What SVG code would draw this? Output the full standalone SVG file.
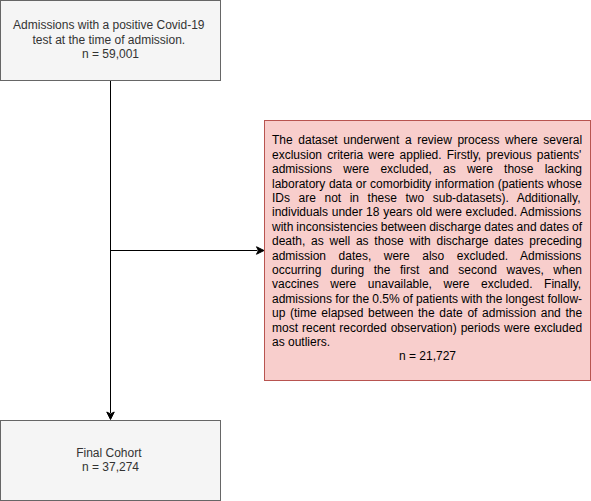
<svg xmlns="http://www.w3.org/2000/svg" width="591" height="501" viewBox="0 0 591 501">
<style>
.box{fill:#f5f5f5;stroke:#666666;stroke-width:1}
.red{fill:#f8cecc;stroke:#b85450;stroke-width:1}
.t{font-family:"Liberation Sans",Arial,Helvetica,sans-serif;font-size:12px;fill:#333333}
.j{font-family:"Liberation Sans",Arial,Helvetica,sans-serif;font-size:12px;fill:#000000}
.edge{fill:none;stroke:#000000;stroke-width:1}
.head{fill:#000000;stroke:#000000;stroke-width:1}
</style>
<rect width="591" height="501" fill="#ffffff"/>
<g id="connectors">
<path class="edge" d="M110.5,80.5 L110.5,413"/>
<path class="head" d="M110.5,419.5 L106.75,412 L110.5,413.9 L114.25,412 Z"/>
<path class="edge" d="M110.5,250.5 L257.5,250.5"/>
<path class="head" d="M264,250.5 L256.5,254.25 L258.4,250.5 L256.5,246.75 Z"/>
</g>
<g id="node-admissions">
<rect class="box" x="0.5" y="0.5" width="220" height="80"/>
<text class="t" text-anchor="middle">
<tspan x="110.5" y="29.4">Admissions with a positive Covid-19</tspan>
<tspan x="110.5" y="43.8">test at the time of admission.</tspan>
<tspan x="110.5" y="58.2">n = 59,001</tspan>
</text>
</g>
<g id="node-exclusion">
<rect class="red" x="264.5" y="120.5" width="326" height="260"/>
<text class="j" x="272" y="144.3" style="word-spacing:2.27px">The dataset underwent a review process where several</text>
<text class="j" x="272" y="158.7" style="word-spacing:1.83px">exclusion criteria were applied. Firstly, previous patients'</text>
<text class="j" x="272" y="173.1" style="word-spacing:7.87px">admissions were excluded, as were those lacking</text>
<text class="j" x="272" y="187.5" style="word-spacing:0.2px">laboratory data or comorbidity information (patients whose</text>
<text class="j" x="272" y="201.9" style="word-spacing:5.22px">IDs are not in these two sub-datasets). Additionally,</text>
<text class="j" x="272" y="216.3" style="word-spacing:0.36px">individuals under 18 years old were excluded. Admissions</text>
<text class="j" x="272" y="230.7" style="word-spacing:-0.31px">with inconsistencies between discharge dates and dates of</text>
<text class="j" x="272" y="245.1" style="word-spacing:2.4px">death, as well as those with discharge dates preceding</text>
<text class="j" x="272" y="259.5" style="word-spacing:9.18px">admission dates, were also excluded. Admissions</text>
<text class="j" x="272" y="273.9" style="word-spacing:6.17px">occurring during the first and second waves, when</text>
<text class="j" x="272" y="288.3" style="word-spacing:8.25px">vaccines were unavailable, were excluded. Finally,</text>
<text class="j" x="272" y="302.7" style="word-spacing:-0.16px">admissions for the 0.5% of patients with the longest follow-</text>
<text class="j" x="272" y="317.1" style="word-spacing:1.32px">up (time elapsed between the date of admission and the</text>
<text class="j" x="272" y="331.5" style="word-spacing:0.65px">most recent recorded observation) periods were excluded</text>
<text class="j" x="272" y="345.9">as outliers.</text>
<text class="j" x="427.5" y="360.3" text-anchor="middle">n = 21,727</text>
</g>
<g id="node-final">
<rect class="box" x="0.5" y="420.5" width="220" height="80"/>
<text class="t" text-anchor="middle">
<tspan x="110.5" y="456.6">Final Cohort</tspan>
<tspan x="110.5" y="471">n = 37,274</tspan>
</text>
</g>
</svg>
